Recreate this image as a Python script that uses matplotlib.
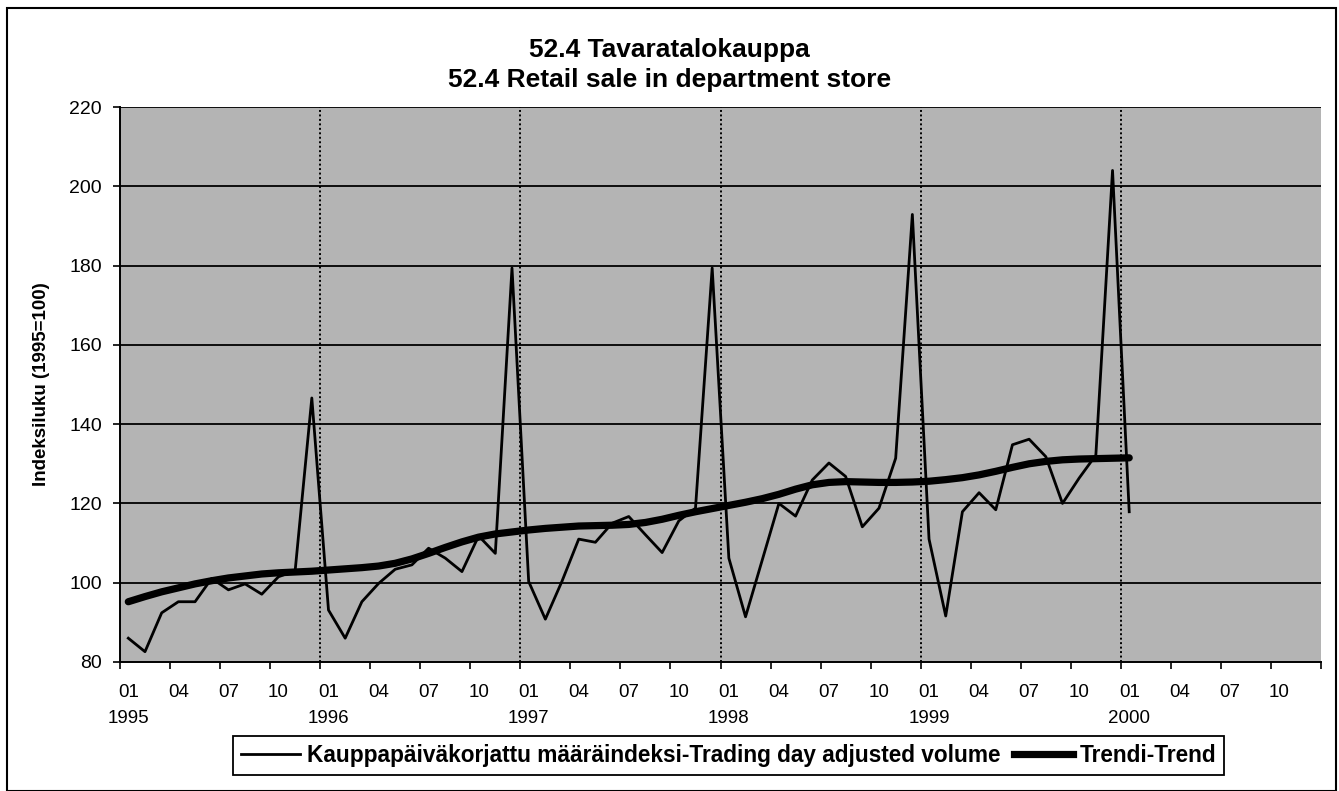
import numpy as np
import matplotlib.pyplot as plt
from matplotlib.lines import Line2D
from matplotlib.patches import Rectangle

# monthly index values, 1995-01 .. 2000-01
volume = [86.0, 82.6, 92.4, 95.2, 95.2, 101.1, 98.2, 99.7, 97.1, 101.5, 103.0, 146.6,
          93.1, 86.0, 95.2, 99.8, 103.4, 104.5, 108.7, 106.2, 102.8, 111.8, 107.4, 179.4,
          100.3, 90.8, 100.4, 111.0, 110.2, 115.0, 116.7, 112.1, 107.6, 115.6, 118.8, 179.4,
          106.2, 91.4, 105.7, 120.0, 116.8, 125.9, 130.2, 126.8, 114.1, 118.8, 131.4, 192.9,
          111.0, 91.6, 117.9, 122.7, 118.4, 134.8, 136.2, 131.8, 120.0, 126.4, 132.2, 204.0,
          117.9]

trend = [95.2, 96.5, 97.7, 98.7, 99.7, 100.5, 101.2, 101.7, 102.2, 102.5, 102.7, 102.9,
         103.2, 103.5, 103.8, 104.2, 104.9, 106.0, 107.4, 108.9, 110.3, 111.5, 112.3, 112.8,
         113.3, 113.7, 114.0, 114.3, 114.4, 114.5, 114.7, 115.2, 116.0, 117.0, 117.9, 118.7,
         119.5, 120.3, 121.2, 122.3, 123.6, 124.7, 125.3, 125.5, 125.4, 125.3, 125.3, 125.4,
         125.6, 126.0, 126.5, 127.2, 128.1, 129.1, 130.0, 130.6, 131.0, 131.2, 131.3, 131.4,
         131.5]

years = ["1995", "1996", "1997", "1998", "1999", "2000"]
months = ["01", "04", "07", "10"]

title = "52.4 Tavaratalokauppa\n52.4 Retail sale in department store"
ylabel = "Indeksiluku (1995=100)"
lbl_volume = "Kauppapäiväkorjattu määräindeksi-Trading day adjusted volume"
lbl_trend = "Trendi-Trend"

plt.rcParams['font.family'] = ['Liberation Sans', 'DejaVu Sans']

fig = plt.figure(figsize=(13.39, 7.91), dpi=100)
ax = fig.add_axes([0.0896, 0.1631, 0.8970, 0.7016])
ax.set_facecolor('#b4b4b4')

n_cat = len(years) * 12
x = np.arange(len(volume))

ax.plot(x, volume, color='black', lw=2.0, zorder=3)
ax.plot(np.arange(len(trend)), trend, color='black', lw=5.2,
        solid_capstyle='round', zorder=4)

ax.set_xlim(-0.5, n_cat - 0.5)
ax.set_ylim(80, 220)

# horizontal grid
ax.set_yticks(np.arange(80, 221, 20))
for v in np.arange(100, 221, 20):
    ax.axhline(v, color='black', lw=1.3, zorder=1)
# dotted year separators
for k in range(1, len(years)):
    ax.axvline(12 * k - 0.5, color='black', lw=1.4, ls=(0, (1, 1.3)), zorder=1)

# ticks at quarter boundaries, labels at category centres
ax.set_xticks(np.arange(-0.5, n_cat, 3))
ax.set_xticklabels([])
lab_pos = np.arange(0, n_cat, 3)
lab_txt = []
for i in lab_pos:
    m = months[(i % 12) // 3]
    if i % 12 == 0:
        lab_txt.append(m + "\n" + years[i // 12])
    else:
        lab_txt.append(m)
ax.set_xticks(lab_pos, minor=True)
ax.set_xticklabels(lab_txt, minor=True, fontsize=13.5, linespacing=1.65, va='top')
ax.tick_params(axis='x', which='minor', length=0, pad=16)
ax.tick_params(axis='x', which='major', length=5, width=1.2, direction='out')
ax.tick_params(axis='y', length=5, width=1.2, direction='out', labelsize=14, pad=8)

for s in ['top', 'right']:
    ax.spines[s].set_visible(False)
for s in ['left', 'bottom']:
    ax.spines[s].set_linewidth(1.4)

ax.set_ylabel(ylabel, fontsize=13.5, fontweight='bold')
ax.yaxis.set_label_coords(-0.058, 0.5)

fig.text(0.5, 0.918, title, ha='center', va='center', fontsize=19,
         fontweight='bold', linespacing=1.3)

handles = [Line2D([], [], color='black', lw=2.0),
           Line2D([], [], color='black', lw=5.2)]
leg = fig.legend(handles, [lbl_volume, lbl_trend], loc='center',
                 bbox_to_anchor=(0.544, 0.045), ncol=2, frameon=True,
                 fancybox=False, edgecolor='black', framealpha=1,
                 handlelength=2.6, handletextpad=0.3, columnspacing=0.6,
                 borderpad=0.35, prop={'weight': 'bold', 'size': 16.3})
leg.get_frame().set_linewidth(1.3)

# outer chart border
fig.patches.append(Rectangle((7 / 1339, 0.0), 1329 / 1339, 783 / 791,
                             transform=fig.transFigure, fill=False,
                             edgecolor='black', lw=1.5))

fig.savefig('out.png', dpi=100)
